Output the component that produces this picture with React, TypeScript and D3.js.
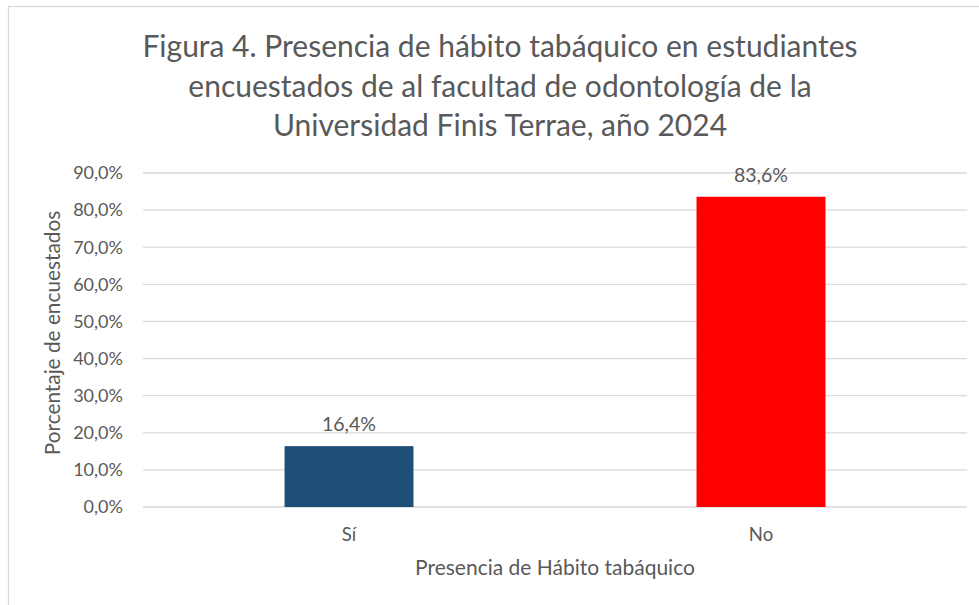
import React from "react";
import * as d3 from "d3";

const categories = ["Sí", "No"];
const values = [16.4, 83.6];
const barColors = ["#1f4e79", "#ff0000"];
const yTicks = [0, 10, 20, 30, 40, 50, 60, 70, 80, 90];
const titleLines = [
  "Figura 4. Presencia de hábito tabáquico en estudiantes",
  "encuestados de al facultad de odontología de la",
  "Universidad Finis Terrae, año 2024",
];

const W = 979;
const H = 605;
const margin = { left: 143, right: 12, top: 173, bottom: 98 };
const font = "Lato, 'Open Sans', sans-serif";
const textColor = "#595959";

const fmt = (v: number) => v.toFixed(1).replace(".", ",") + "%";

export default function App() {
  const x = d3
    .scaleBand<string>()
    .domain(categories)
    .range([margin.left, W - margin.right])
    .padding(0);
  const y = d3
    .scaleLinear()
    .domain([0, 90])
    .range([H - margin.bottom, margin.top]);
  const barW = x.bandwidth() * 0.313;

  return (
    <svg
      width={W}
      height={H}
      style={{ position: "absolute", left: 0, top: 0, background: "#fff" }}
    >
      <rect x={8.5} y={6.5} width={1000} height={700} fill="#fff" stroke="#d9d9d9" strokeWidth={1.3} />
      {titleLines.map((t, i) => (
        <text
          key={i}
          x={500}
          y={57 + i * 39.5}
          textAnchor="middle"
          fontFamily={font}
          fontSize={30}
          fill={textColor}
        >
          {t}
        </text>
      ))}
      {yTicks.map((t) => (
        <g key={t}>
          <line
            x1={margin.left}
            x2={W - margin.right}
            y1={y(t)}
            y2={y(t)}
            stroke="#d9d9d9"
            strokeWidth={1.3}
          />
          <text
            x={123}
            y={y(t)}
            dy="0.35em"
            textAnchor="end"
            fontFamily={font}
            fontSize={18}
            fill={textColor}
          >
            {fmt(t)}
          </text>
        </g>
      ))}
      {categories.map((c, i) => {
        const cx = (x(c) as number) + x.bandwidth() / 2;
        return (
          <g key={c}>
            <rect
              x={cx - barW / 2}
              y={y(values[i])}
              width={barW}
              height={y(0) - y(values[i])}
              fill={barColors[i]}
            />
            <text
              x={cx}
              y={y(values[i]) - 15}
              textAnchor="middle"
              fontFamily={font}
              fontSize={19.5}
              fill={textColor}
            >
              {fmt(values[i])}
            </text>
            <text
              x={cx}
              y={541}
              textAnchor="middle"
              fontFamily={font}
              fontSize={18.5}
              fill={textColor}
            >
              {c}
            </text>
          </g>
        );
      })}
      <text
        x={(margin.left + W - margin.right) / 2}
        y={575}
        textAnchor="middle"
        fontFamily={font}
        fontSize={21}
        fill={textColor}
      >
        Presencia de Hábito tabáquico
      </text>
      <text
        transform={`translate(60, 333) rotate(-90)`}
        textAnchor="middle"
        fontFamily={font}
        fontSize={20.8}
        fill={textColor}
      >
        Porcentaje de encuestados
      </text>
    </svg>
  );
}
